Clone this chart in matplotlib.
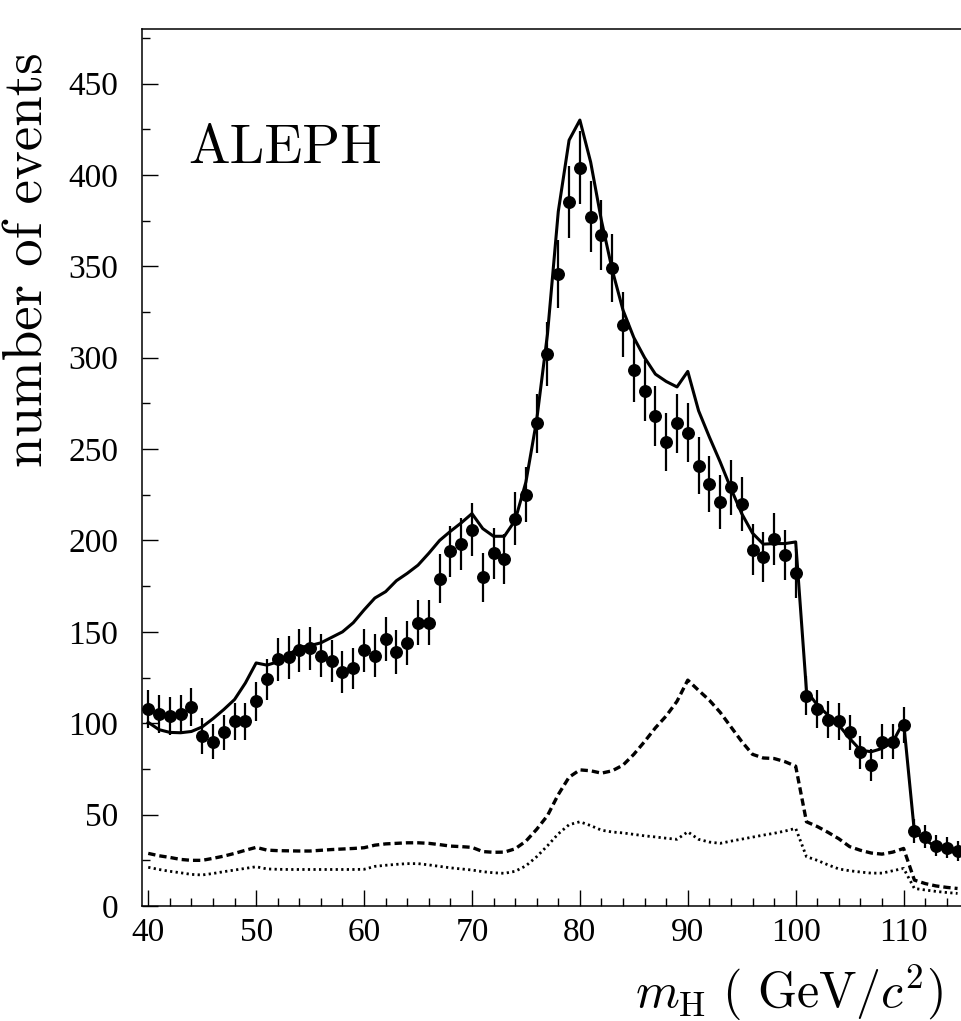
import numpy as np
import matplotlib
matplotlib.use('Agg')
import matplotlib.pyplot as plt
from matplotlib.ticker import MultipleLocator

# reconstructed Higgs mass, 1 GeV bins
mass = np.arange(40, 116)

# selected data events
counts = [108, 105, 104, 105, 109, 93, 90, 95, 101, 101,
          112, 124, 135, 136, 140, 141, 137, 134, 128, 130,
          140, 137, 146, 139, 144, 155, 155, 179, 194, 198,
          206, 180, 193, 190, 212, 225, 264, 302, 346, 385,
          404, 377, 367, 349, 318, 293, 282, 268, 254, 264,
          259, 241, 231, 221, 229, 220, 195, 191, 201, 192,
          182, 115, 108, 102, 101, 95, 84, 77, 90, 90,
          99, 41, 38, 33, 32, 30]

# total simulated background (solid)
total_mc = [100.5, 96.5, 95.0, 94.8, 95.5, 98.0, 102.5, 107.5, 113.0, 122.0,
            133.0, 131.8, 133.6, 137.5, 141.4, 142.5, 144.0, 147.0, 150.0, 155.0,
            162.0, 168.5, 172.0, 178.0, 182.0, 186.5, 193.0, 200.0, 205.0, 209.6,
            214.7, 206.5, 202.3, 202.3, 211.0, 232.0, 266.0, 313.0, 380.0, 419.0,
            430.0, 407.0, 375.0, 348.0, 326.0, 311.0, 300.0, 291.0, 287.0, 284.0,
            292.5, 271.0, 256.6, 243.0, 228.4, 214.7, 204.0, 198.0, 198.3, 198.3,
            199.2, 117.7, 110.0, 104.4, 99.0, 91.7, 85.3, 84.4, 86.2, 89.8,
            100.8, 40.6, 36.1, 32.4, 30.6, 28.8]

# background components (dashed, dotted)
bkg_dashed = [28.8, 27.5, 26.6, 25.5, 25.0, 25.0, 26.1, 27.3, 28.8, 30.5,
              32.1, 30.6, 30.3, 30.2, 30.1, 30.1, 30.5, 30.9, 31.2, 31.5,
              31.9, 33.3, 34.0, 34.3, 34.6, 34.6, 34.3, 33.6, 32.8, 32.5,
              32.1, 29.8, 29.4, 29.5, 31.3, 35.5, 42.0, 49.5, 61.0, 70.5,
              74.5, 74.0, 72.7, 74.0, 77.1, 83.0, 90.0, 97.5, 104.0, 112.0,
              123.6, 118.0, 112.6, 106.0, 98.0, 90.0, 83.0, 81.0, 80.7, 79.0,
              76.5, 46.1, 43.5, 40.3, 36.8, 32.5, 30.5, 29.0, 28.4, 29.5,
              31.5, 14.2, 12.3, 11.0, 10.2, 9.6]

bkg_dotted = [21.2, 20.0, 19.0, 18.2, 17.3, 17.0, 17.8, 18.8, 19.7, 20.6,
              21.5, 20.3, 20.1, 20.0, 20.0, 20.0, 20.0, 20.0, 20.0, 20.0,
              20.1, 21.7, 22.3, 22.8, 23.2, 23.2, 22.5, 21.7, 20.9, 20.3,
              19.7, 18.8, 18.2, 17.9, 19.0, 22.0, 27.0, 33.0, 39.5, 44.5,
              46.1, 44.0, 41.5, 40.5, 40.0, 39.2, 38.4, 37.8, 37.1, 36.5,
              40.6, 36.5, 35.0, 34.3, 35.5, 36.6, 37.7, 38.8, 39.8, 41.0,
              42.5, 27.0, 25.0, 22.5, 20.3, 19.3, 18.6, 18.0, 18.0, 19.3,
              20.6, 9.6, 8.8, 8.0, 7.4, 6.9]

plt.rcParams['mathtext.fontset'] = 'cm'
plt.rcParams['font.family'] = ['Liberation Serif', 'DejaVu Serif']

fig = plt.figure(figsize=(9.61, 10.21), dpi=100)
ax = fig.add_axes([0.1474, 0.1126, 0.8526, 0.8593])

ax.plot(mass, total_mc, color='black', lw=2.2)
ax.plot(mass, bkg_dashed, color='black', lw=2.4, dashes=(2.2, 1.2))
ax.plot(mass, bkg_dotted, color='black', lw=2.0, dashes=(0.8, 1.2))
ax.errorbar(mass, counts, yerr=np.sqrt(counts), fmt='o', color='black',
            ms=8.3, elinewidth=1.6, capsize=0)

ax.set_xlim(39.39, 115.32)
ax.set_ylim(0, 480)
ax.xaxis.set_major_locator(MultipleLocator(10))
ax.xaxis.set_minor_locator(MultipleLocator(2))
ax.yaxis.set_major_locator(MultipleLocator(50))
ax.yaxis.set_minor_locator(MultipleLocator(25))
ax.tick_params(which='both', direction='in', width=1.0, labelsize=24)
ax.tick_params(which='major', length=11.5)
ax.tick_params(which='minor', length=5.8)
ax.tick_params(axis='y', pad=17)
ax.tick_params(axis='x', pad=8)

ax.spines['right'].set_visible(False)
for s in ['left', 'bottom', 'top']:
    ax.spines[s].set_linewidth(1.1)

fig.text(188/961, 1-163/1021, 'ALEPH', family='cmr10', size=40,
         ha='left', va='baseline')
fig.text(43/961, 1-259.5/1021, 'number of events', family='cmr10', size=39.5,
         rotation=90, rotation_mode='anchor', ha='center', va='baseline')
fig.text(943/961, 1-1008/1021, r'$m_{\mathrm{H}}\ (\ \mathrm{GeV}/c^{2})$',
         size=36, ha='right', va='baseline')

fig.savefig('out.png', dpi=100)
